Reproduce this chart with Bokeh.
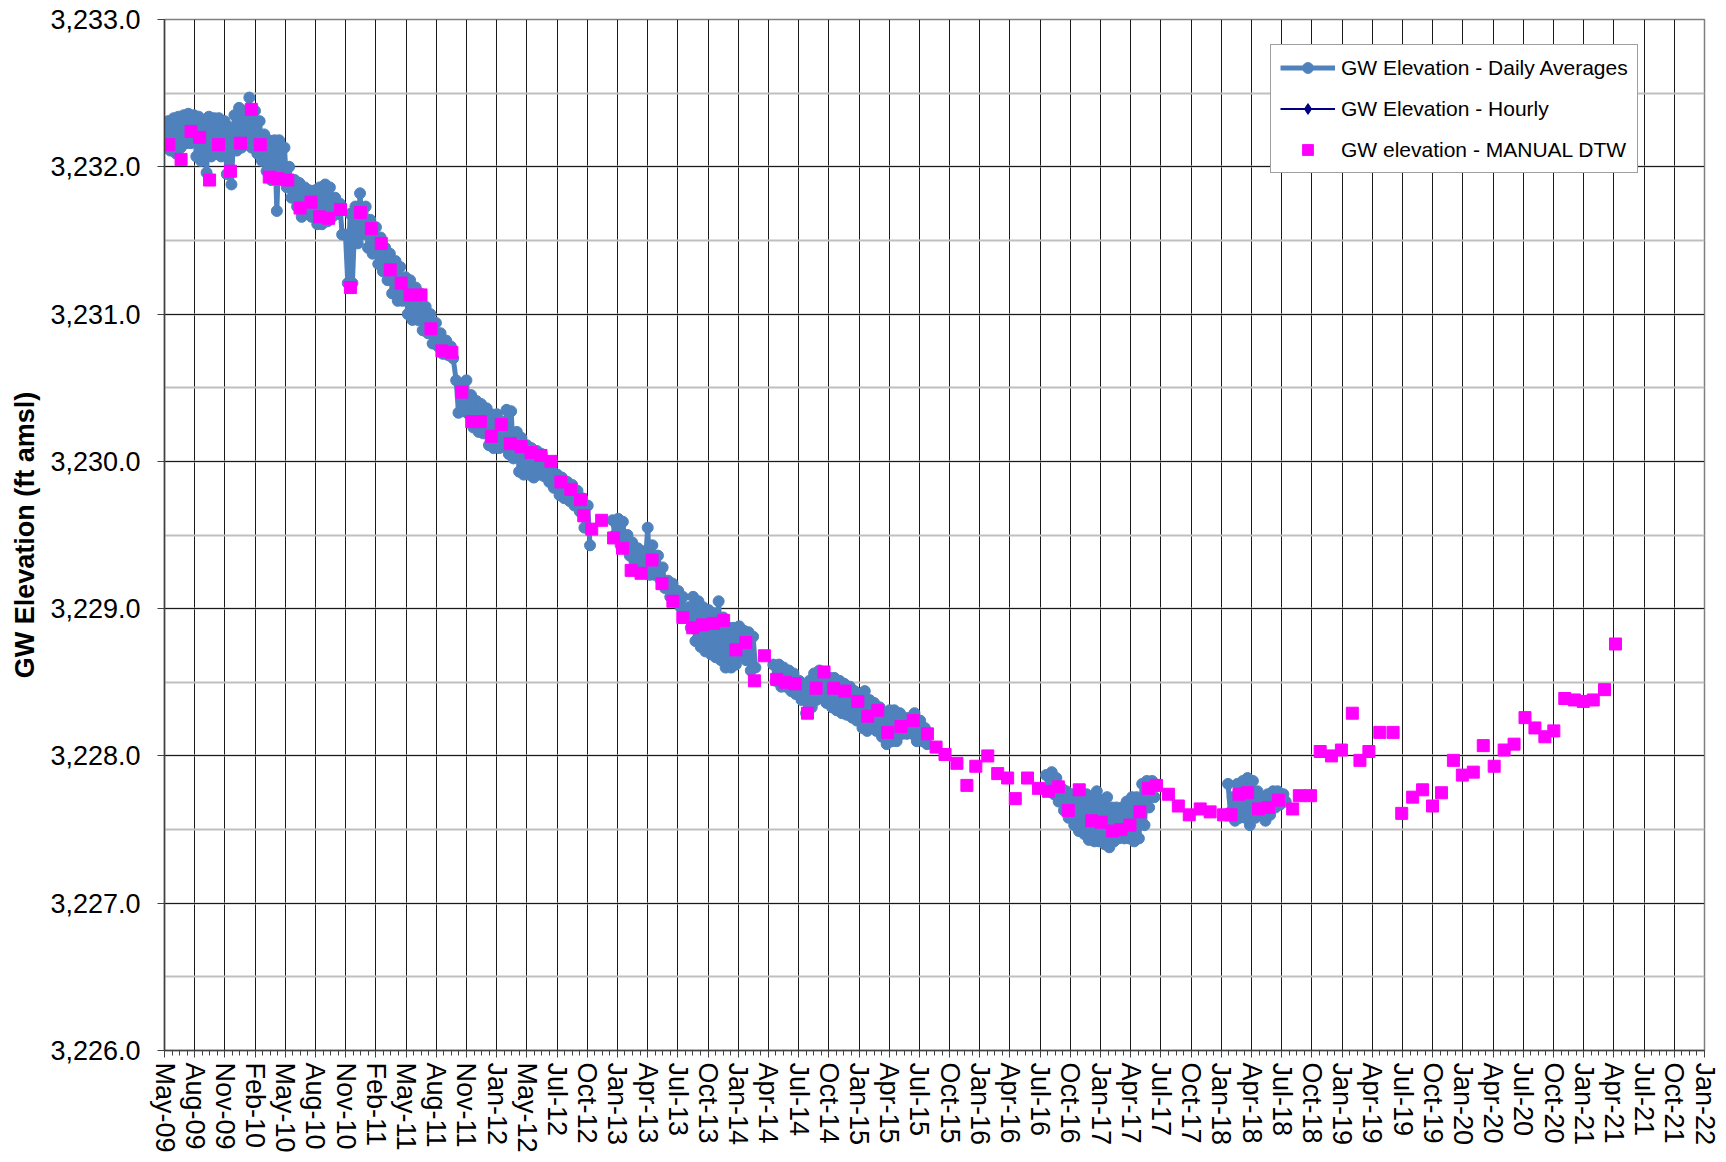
import math
import numpy as np
import pandas as pd
from bokeh.plotting import figure
from bokeh.models import (ColumnDataSource, Range1d, FixedTicker, SingleIntervalTicker,
                          NumeralTickFormatter, CustomJSTickFormatter, Legend, LegendItem)
from bokeh.embed import file_html
from bokeh.resources import INLINE

# ---------------- x-axis tick labels (Excel date axis, ~91.11-day major unit) -------------
x_tick_labels = ["May-09", "Aug-09", "Nov-09", "Feb-10", "May-10", "Aug-10", "Nov-10", "Feb-11",
                 "May-11", "Aug-11", "Nov-11", "Jan-12", "May-12", "Jul-12", "Oct-12", "Jan-13",
                 "Apr-13", "Jul-13", "Oct-13", "Jan-14", "Apr-14", "Jul-14", "Oct-14", "Jan-15",
                 "Apr-15", "Jul-15", "Oct-15", "Jan-16", "Apr-16", "Jul-16", "Oct-16", "Jan-17",
                 "Apr-17", "Jul-17", "Oct-17", "Jan-18", "Apr-18", "Jul-18", "Oct-18", "Jan-19",
                 "Apr-19", "Jul-19", "Oct-19", "Jan-20", "Apr-20", "Jul-20", "Oct-20", "Jan-21",
                 "Apr-21", "Jul-21", "Oct-21", "Jan-22"]
x_axis_start = "2009-05-04"
x_major_unit_days = 91.11
y_min, y_max = 3226.0, 3233.0

# ---------------- GW Elevation - Daily Averages (semi-monthly high / low readings) --------
daily_start_1 = "2009-05-01"
daily_hi_1 = [3232.29, 3232.31, 3232.33, 3232.34, 3232.35, 3232.36, 3232.35, 3232.34, 3232.31, 3232.34,
              3232.33, 3232.33, 3232.31, 3232.27, 3232.35, 3232.40, 3232.38, 3232.47, 3232.38, 3232.31,
              3232.22, 3232.18, 3232.18, 3232.18, 3232.13, 3232.00, 3231.91, 3231.89, 3231.86, 3231.84,
              3231.84, 3231.86, 3231.88, 3231.86, 3231.79, 3231.75, 3231.54, 3231.68, 3231.73, 3231.82,
              3231.73, 3231.64, 3231.59, 3231.52, 3231.45, 3231.41, 3231.36, 3231.32, 3231.25, 3231.23,
              3231.18, 3231.14, 3231.05, 3231.00, 3230.94, 3230.87, 3230.82, 3230.78, 3230.55, 3230.52,
              3230.55, 3230.45, 3230.41, 3230.39, 3230.36, 3230.32, 3230.32, 3230.27, 3230.35, 3230.34,
              3230.20, 3230.16, 3230.11, 3230.09, 3230.07, 3230.05, 3230.00, 3229.95, 3229.91, 3229.89,
              3229.86, 3229.84, 3229.80, 3229.75, 3229.70]
daily_lo_1 = [3232.13, 3232.11, 3232.09, 3232.13, 3232.16, 3232.16, 3232.07, 3232.04, 3231.96, 3232.07,
              3232.09, 3232.07, 3231.95, 3231.88, 3232.11, 3232.13, 3232.15, 3232.13, 3232.09, 3232.04,
              3231.97, 3231.91, 3231.70, 3231.91, 3231.86, 3231.79, 3231.73, 3231.66, 3231.68, 3231.66,
              3231.61, 3231.61, 3231.63, 3231.66, 3231.68, 3231.54, 3231.21, 3231.21, 3231.48, 3231.54,
              3231.45, 3231.41, 3231.34, 3231.29, 3231.23, 3231.14, 3231.09, 3231.09, 3231.00, 3230.96,
              3230.96, 3230.89, 3230.87, 3230.80, 3230.78, 3230.73, 3230.72, 3230.70, 3230.33, 3230.34,
              3230.32, 3230.23, 3230.20, 3230.19, 3230.11, 3230.09, 3230.09, 3230.11, 3230.05, 3230.02,
              3229.93, 3229.91, 3229.91, 3229.89, 3229.91, 3229.90, 3229.86, 3229.82, 3229.77, 3229.75,
              3229.73, 3229.70, 3229.66, 3229.55, 3229.43]

daily_start_2 = "2013-01-15"
daily_hi_2 = [3229.60, 3229.61, 3229.59, 3229.50, 3229.45, 3229.41, 3229.39, 3229.55, 3229.43, 3229.36,
              3229.28, 3229.19, 3229.17, 3229.12, 3229.08, 3229.01, 3229.08, 3229.05, 3229.01, 3228.99,
              3228.97, 3229.05, 3228.94, 3228.87, 3228.87, 3228.88, 3228.85, 3228.84, 3228.81]
daily_lo_2 = [3229.50, 3229.43, 3229.41, 3229.36, 3229.32, 3229.27, 3229.25, 3229.23, 3229.23, 3229.20,
              3229.14, 3229.08, 3229.05, 3229.01, 3228.94, 3228.87, 3228.78, 3228.74, 3228.71, 3228.69,
              3228.67, 3228.65, 3228.60, 3228.60, 3228.62, 3228.68, 3228.65, 3228.58, 3228.60]

daily_start_3 = "2014-05-15"
daily_hi_3 = [3228.62, 3228.62, 3228.60, 3228.58, 3228.56, 3228.51, 3228.47, 3228.51, 3228.56, 3228.58,
              3228.56, 3228.53, 3228.53, 3228.51, 3228.49, 3228.47, 3228.44, 3228.42, 3228.44, 3228.38,
              3228.36, 3228.33, 3228.29, 3228.31, 3228.31, 3228.29, 3228.26, 3228.26, 3228.29, 3228.24,
              3228.19]
daily_lo_3 = [3228.51, 3228.47, 3228.47, 3228.44, 3228.42, 3228.38, 3228.29, 3228.33, 3228.38, 3228.40,
              3228.36, 3228.33, 3228.31, 3228.29, 3228.28, 3228.26, 3228.24, 3228.19, 3228.17, 3228.19,
              3228.17, 3228.13, 3228.08, 3228.10, 3228.10, 3228.15, 3228.15, 3228.15, 3228.10, 3228.10,
              3228.08]

daily_start_4 = "2016-08-15"
daily_hi_4 = [3227.87, 3227.89, 3227.85, 3227.78, 3227.76, 3227.74, 3227.72, 3227.72, 3227.74, 3227.70,
              3227.76, 3227.70, 3227.72, 3227.65, 3227.65, 3227.65, 3227.69, 3227.72, 3227.72, 3227.81,
              3227.83, 3227.83]
daily_lo_4 = [3227.78, 3227.74, 3227.69, 3227.63, 3227.58, 3227.53, 3227.49, 3227.47, 3227.43, 3227.42,
              3227.42, 3227.40, 3227.38, 3227.42, 3227.44, 3227.44, 3227.44, 3227.42, 3227.44, 3227.53,
              3227.65, 3227.72]

daily_start_5 = "2018-02-15"
daily_hi_5 = [3227.81, 3227.72, 3227.81, 3227.83, 3227.85, 3227.83, 3227.76, 3227.72, 3227.74, 3227.76,
              3227.76, 3227.74]
daily_lo_5 = [3227.62, 3227.56, 3227.58, 3227.58, 3227.53, 3227.58, 3227.60, 3227.56, 3227.60, 3227.65,
              3227.67, 3227.69]

# ---------------- GW elevation - MANUAL DTW -----------------------------------------------
manual_dates = [
    "2009-05-17", "2009-06-23", "2009-07-23", "2009-08-18", "2009-09-17", "2009-10-14", "2009-11-19",
    "2009-12-19", "2010-01-21", "2010-02-17", "2010-03-16", "2010-04-11", "2010-05-11", "2010-06-17",
    "2010-07-20", "2010-08-15", "2010-09-11", "2010-10-17", "2010-11-16", "2010-12-16", "2011-01-18",
    "2011-02-17", "2011-03-16", "2011-04-18", "2011-05-15", "2011-06-17", "2011-07-17", "2011-08-19",
    "2011-09-18", "2011-10-18", "2011-11-17", "2011-12-13", "2012-01-15", "2012-02-14", "2012-03-12",
    "2012-04-14", "2012-05-14", "2012-06-13", "2012-07-13", "2012-08-12", "2012-09-11", "2012-10-10",
    "2012-10-20", "2012-11-13", "2012-12-13", "2013-01-18", "2013-02-14", "2013-03-12", "2013-04-11",
    "2013-05-14", "2013-06-13", "2013-07-16", "2013-08-15", "2013-09-14", "2013-10-14", "2013-11-16",
    "2013-12-16", "2014-01-22", "2014-02-21", "2014-03-19", "2014-04-18", "2014-05-25", "2014-06-20",
    "2014-07-20", "2014-08-26", "2014-09-21", "2014-10-15", "2014-11-13", "2014-12-17", "2015-01-25",
    "2015-02-24", "2015-03-26", "2015-04-25", "2015-06-04", "2015-07-11", "2015-08-23", "2015-09-18",
    "2015-10-15", "2015-11-20", "2015-12-20", "2016-01-16", "2016-02-21", "2016-03-22", "2016-04-21",
    "2016-05-14", "2016-06-20", "2016-07-23", "2016-08-22", "2016-09-21", "2016-10-21", "2016-11-23",
    "2016-12-30", "2017-01-28", "2017-03-03", "2017-03-29", "2017-04-25", "2017-05-25", "2017-06-20",
    "2017-07-14", "2017-08-19", "2017-09-18", "2017-10-21", "2017-11-23", "2017-12-23", "2018-02-01",
    "2018-02-24", "2018-03-20", "2018-04-15", "2018-05-18", "2018-06-17", "2018-07-17", "2018-08-29",
    "2018-09-18", "2018-10-22", "2018-11-20", "2018-12-24", "2019-01-23", "2019-02-25", "2019-03-20",
    "2019-04-16", "2019-05-19", "2019-06-28", "2019-07-24", "2019-08-26", "2019-09-25", "2019-10-25",
    "2019-11-21", "2019-12-27", "2020-01-23", "2020-02-25", "2020-03-26", "2020-04-28", "2020-05-28",
    "2020-06-27", "2020-07-30", "2020-08-29", "2020-09-28", "2020-10-25", "2020-11-27", "2020-12-26",
    "2021-01-22", "2021-02-21", "2021-03-27", "2021-04-29"]
manual_elev = [
    3232.15, 3232.05, 3232.24, 3232.20, 3231.91, 3232.15, 3231.97,
    3232.16, 3232.39, 3232.15, 3231.93, 3231.92, 3231.91, 3231.72,
    3231.76, 3231.66, 3231.65, 3231.71, 3231.18, 3231.69, 3231.58,
    3231.48, 3231.30, 3231.21, 3231.13, 3231.13, 3230.90, 3230.75,
    3230.74, 3230.47, 3230.27, 3230.27, 3230.17, 3230.25, 3230.12,
    3230.10, 3230.06, 3230.04, 3230.00, 3229.86, 3229.81, 3229.74,
    3229.63, 3229.54, 3229.60, 3229.48, 3229.41, 3229.26, 3229.24,
    3229.33, 3229.17, 3229.05, 3228.94, 3228.87, 3228.89, 3228.90,
    3228.92, 3228.72, 3228.77, 3228.51, 3228.68, 3228.52, 3228.50,
    3228.49, 3228.29, 3228.46, 3228.57, 3228.46, 3228.44, 3228.37,
    3228.27, 3228.31, 3228.16, 3228.20, 3228.24, 3228.15, 3228.06,
    3228.01, 3227.95, 3227.80, 3227.93, 3228.00, 3227.88, 3227.85,
    3227.71, 3227.85, 3227.78, 3227.76, 3227.79, 3227.63, 3227.77,
    3227.56, 3227.55, 3227.49, 3227.50, 3227.53, 3227.62, 3227.78,
    3227.80, 3227.74, 3227.66, 3227.60, 3227.64, 3227.62, 3227.60,
    3227.60, 3227.74, 3227.75, 3227.64, 3227.65, 3227.70, 3227.64,
    3227.73, 3227.73, 3228.03, 3228.00, 3228.04, 3228.29, 3227.97,
    3228.03, 3228.16, 3228.16, 3227.61, 3227.72, 3227.77, 3227.66,
    3227.75, 3227.97, 3227.87, 3227.89, 3228.07, 3227.93, 3228.04,
    3228.08, 3228.26, 3228.19, 3228.13, 3228.17, 3228.39, 3228.38,
    3228.37, 3228.38, 3228.45, 3228.76]

# GW Elevation - Hourly: no values visible on the chart (legend entry only)
hourly_dates = [x_axis_start]
hourly_elev = [float("nan")]

# ---------------- build sources --------------------------------------------------------
MS_DAY = 86400000.0


def to_ms(ts):
    return pd.Timestamp(ts).value / 1e6


segments = [(daily_start_1, daily_hi_1, daily_lo_1), (daily_start_2, daily_hi_2, daily_lo_2),
            (daily_start_3, daily_hi_3, daily_lo_3), (daily_start_4, daily_hi_4, daily_lo_4),
            (daily_start_5, daily_hi_5, daily_lo_5)]
dx, dy = [], []
for start, hi, lo in segments:
    dates = pd.date_range(start, periods=len(hi), freq="SMS")
    for d, h, l in zip(dates, hi, lo):
        dx += [to_ms(d), to_ms(d) + 7 * MS_DAY]
        dy += [h, l]
    dx.append(np.nan)
    dy.append(np.nan)
daily_src = ColumnDataSource(dict(x=dx, y=dy))
manual_src = ColumnDataSource(dict(x=[to_ms(d) for d in manual_dates], y=manual_elev))
hourly_src = ColumnDataSource(dict(x=[to_ms(d) for d in hourly_dates], y=hourly_elev))

t0 = to_ms(x_axis_start)
step = x_major_unit_days * MS_DAY
n_int = len(x_tick_labels) - 1
major = [t0 + k * step for k in range(n_int + 1)]
minor = [t0 + j * step / 4 for j in range(n_int * 4 + 1)]

FONT = "Liberation Sans"

p = figure(width=1726, height=1162, output_backend="svg", toolbar_location=None,
           x_range=Range1d(t0, t0 + n_int * step), y_range=Range1d(y_min, y_max),
           min_border_left=164, min_border_right=22, min_border_top=19, min_border_bottom=112,
           background_fill_color="white", border_fill_color="white")
p.outline_line_color = "#7f7f7f"
p.outline_line_width = 1.5

# x axis
p.xaxis.ticker = FixedTicker(ticks=major, minor_ticks=minor)
p.xaxis.formatter = CustomJSTickFormatter(
    args=dict(labels=x_tick_labels, t0=t0, step=step),
    code="const i = Math.round((tick - t0) / step); return (i >= 0 && i < labels.length) ? labels[i] : '';")
p.xaxis.major_label_orientation = -math.pi / 2
p.xaxis.major_label_text_font = FONT
p.xaxis.major_label_text_font_size = "27px"
p.xaxis.major_label_text_color = "black"
p.xaxis.major_label_standoff = 5
p.xaxis.major_tick_out = 7
p.xaxis.major_tick_in = 0
p.xaxis.minor_tick_out = 5
p.xaxis.minor_tick_in = 0
p.xaxis.axis_line_color = "#404040"
p.xaxis.axis_line_width = 1.5
p.xaxis.major_tick_line_color = "#404040"
p.xaxis.minor_tick_line_color = "#404040"

# y axis
p.yaxis.ticker = SingleIntervalTicker(interval=1, num_minor_ticks=2)
p.yaxis.formatter = NumeralTickFormatter(format="0,0.0")
p.yaxis.major_label_text_font = FONT
p.yaxis.major_label_text_font_size = "27px"
p.yaxis.major_label_text_color = "black"
p.yaxis.major_label_standoff = 17
p.yaxis.major_tick_out = 7
p.yaxis.major_tick_in = 0
p.yaxis.minor_tick_line_color = None
p.yaxis.axis_line_color = "#404040"
p.yaxis.axis_line_width = 1.5
p.yaxis.major_tick_line_color = "#404040"
p.yaxis.axis_label = "GW Elevation (ft amsl)"
p.yaxis.axis_label_text_font = FONT
p.yaxis.axis_label_text_font_size = "27px"
p.yaxis.axis_label_text_font_style = "bold"
p.yaxis.axis_label_text_color = "black"
p.yaxis.axis_label_standoff = 7

# grids
p.xgrid.grid_line_color = "#1a1a1a"
p.xgrid.grid_line_width = 1
p.ygrid.grid_line_color = "#1a1a1a"
p.ygrid.grid_line_width = 1
p.ygrid.minor_grid_line_color = "#bfbfbf"
p.ygrid.minor_grid_line_width = 2

# series
BLUE = "#4F81BD"
d_line = p.line("x", "y", source=daily_src, line_color=BLUE, line_width=5)
d_pts = p.scatter("x", "y", source=daily_src, marker="circle", size=11,
                  fill_color=BLUE, line_color=BLUE)
h_line = p.line("x", "y", source=hourly_src, line_color="#000080", line_width=2)
h_pts = p.scatter("x", "y", source=hourly_src, marker="diamond", size=6,
                  fill_color="#000080", line_color="#000080")
m_pts = p.scatter("x", "y", source=manual_src, marker="square", size=12,
                  fill_color="#FF00FF", line_color="#FF00FF")

legend = Legend(items=[
    LegendItem(label="GW Elevation - Daily Averages", renderers=[d_line, d_pts]),
    LegendItem(label="GW Elevation - Hourly", renderers=[h_line, h_pts]),
    LegendItem(label="GW elevation - MANUAL DTW", renderers=[m_pts]),
], location=(1106, 877))
legend.label_text_font = FONT
legend.label_text_font_size = "21px"
legend.label_text_color = "black"
legend.glyph_width = 55
legend.glyph_height = 27
legend.label_height = 27
legend.label_standoff = 6
legend.spacing = 14
legend.padding = 9
legend.margin = 0
legend.border_line_color = "#404040"
legend.border_line_width = 1
legend.background_fill_color = "white"
legend.background_fill_alpha = 1.0
p.add_layout(legend)

open("out.html", "w").write(file_html(p, INLINE))
